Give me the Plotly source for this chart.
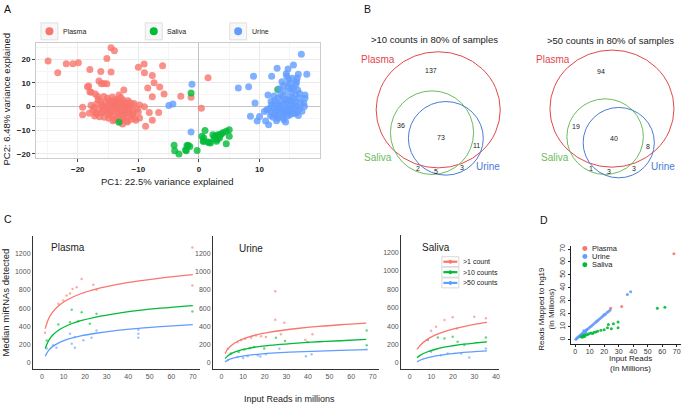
import plotly.graph_objects as go

W, H = 685, 407
def X(px): return px / W
def Y(py): return 1 - py / H

FONT = "Liberation Sans, Arial, sans-serif"
COL = {"Plasma": "#F8766D", "Saliva": "#00BA38", "Urine": "#619CFF"}

# ---------------- Panel A: PCA (PC1, PC2) ----------------
plasma_pc = [(-24.9,19.3),(-23.3,14.3),(-21.9,18.1),(-20.8,18.1),(-19.9,18.6),(-14.5,24.9),(-13.95,23.6),
 (-15.2,20.4),(-18.0,15.7),(-16.2,14.8),(-14.5,14.6),(-10.0,16.6),(-9.05,18.0),(-6.0,17.3),(-9.0,14.3),
 (-7.7,13.2),(-7.4,10.1),(-8.45,7.9),(-6.47,8.3),(-5.76,5.35),(-7.7,4.1),(-3.0,4.4),(-1.3,3.9),(1.5,12.2),
 (0.4,-0.7),(-18.2,8.7),(-16.5,10.8),(-16.1,9.7),(-15.7,9.8),(-15.2,9.6),(-17.8,6.0),(-17.1,5.35),(-16.7,4.2),
 (-12.4,7.0),(-13.2,4.9),(-12.5,2.8),(-10.7,1.3),(-9.0,-0.1),(-19.2,-0.3),(-19.2,-3.5),(-18.1,-2.8),
 (-17.3,-0.4),(-17.0,-2.9),(-8.2,-2.5),(-6.65,-2.5),(-7.7,-5.8),(-9.8,-4.9),(-8.8,-8.3),(-11.0,-3.5),
 (-10.4,-5.8),(-11.9,-6.1),(-12.6,-7.4),(-18.4,8.4),(-18.0,6.3),
 (-16.5,-1.0),(-16.0,0.5),(-15.8,-2.2),(-15.5,1.5),(-15.3,-0.5),(-15.0,-3.0),(-14.8,2.5),(-14.6,0.0),
 (-14.4,-1.5),(-14.2,1.0),(-14.0,-4.0),(-13.8,3.0),(-13.6,-0.8),(-13.4,-2.5),(-13.2,0.8),(-13.0,-1.2),
 (-12.8,2.0),(-12.6,-3.5),(-12.4,0.2),(-12.2,-1.8),(-12.0,1.2),(-11.8,-2.8),(-11.5,-0.5),(-11.2,-4.0),
 (-11.0,0.8),(-10.8,-1.8),(-16.8,-3.0),(-16.2,2.0),(-15.6,-4.5),(-15.1,3.5),(-14.9,-5.0),(-14.3,4.0),
 (-13.9,-5.5),(-13.5,1.8),(-13.1,-3.8),(-12.9,3.8),(-12.5,-5.2),(-12.1,-0.3),(-11.7,2.5),(-11.3,-5.5),
 (-17.5,-1.5),(-17.8,0.5),(-16.6,3.0),(-14.7,-2.5),(-14.1,-0.2),(-13.3,2.6),(-12.7,-2.0),(-12.3,-4.5),
 (-11.9,0.0),(-15.9,-0.2),(-15.4,-1.5),(-14.5,1.8),(-13.7,-1.7),(-13.0,0.3),(-12.6,1.0),(-16.1,-2.6),
 (-14.0,2.2),(-13.4,-4.6),(-11.4,1.6),(-10.9,-3.0),(-10.2,-1.0),(-9.8,0.6),(-10.0,-2.3),(-15.2,0.2),
 (-14.6,-3.6),(-13.6,0.9),(-12.2,-3.0),(-11.6,-1.3),(-16.9,1.2),(-17.2,-4.0),(-16.4,-4.3),(-15.7,4.2),
 (-14.2,-6.0),(-13.0,-6.3),(-11.8,-6.5),(-10.6,-5.0)]

saliva_pc = [(-13.2,-6.7),(-1.3,5.7),(13.0,7.2),(-4.1,-16.4),(-4.0,-18.7),(-3.3,-20.1),(-2.1,-18.7),
 (-1.8,-16.4),(-1.5,-16.9),(-0.3,-18.6),(0.8,-14.7),(1.0,-10.1),(0.5,-12.6),(1.5,-15.0),(1.9,-15.5),
 (2.6,-12.6),(2.9,-14.7),(3.1,-12.0),(3.4,-13.3),(3.7,-11.6),(4.5,-10.5),(5.0,-9.8),(5.0,-12.6),(4.5,-15.8),
 (0.8,-13.3),(2.3,-12.0),(2.8,-13.0),(3.2,-12.5),(2.5,-13.6),(3.0,-14.0),(-2.2,-18.3),(-1.97,-16.5),
 (1.65,-15.2),(0.7,-14.7),(4.0,-11.0),(3.5,-12.0)]

urine_pc = [(-4.97,0.4),(-4.3,1.1),(-1.15,9.4),(-1.3,-10.8),(6.5,7.9),(8.2,8.4),(9.0,12.8),(9.25,1.5),
 (8.5,-4.1),(9.6,-6.1),(10.0,-4.25),(11.0,-6.1),(11.5,-7.7),(12.0,12.8),(12.9,16.2),(14.4,13.9),(14.5,12.8),
 (14.7,15.9),(15.6,17.6),(16.9,22.1),(17.8,13.7),(16.4,13.7),(16.0,9.4),(17.5,4.9),(17.5,3.5),(17.4,0.0),
 (17.3,1.4),(11.4,4.9),(11.9,2.1),(11.2,-1.4),(10.8,-2.1),
 (12.0,-2.5),(12.3,-0.5),(12.5,-3.5),(12.7,1.0),(12.9,-1.5),(13.1,-4.0),(13.2,0.5),(13.4,-2.2),(13.6,2.0),
 (13.7,-0.8),(13.9,-3.2),(14.0,1.2),(14.1,-1.8),(14.3,3.0),(14.4,-0.3),(14.5,-2.8),(14.6,1.8),(14.8,-1.2),
 (14.9,4.0),(15.0,0.5),(15.1,-2.0),(15.2,2.5),(15.3,6.0),(15.4,-0.5),(15.5,3.5),(15.6,8.0),(15.7,1.0),
 (15.8,-1.5),(15.9,5.0),(16.0,2.0),(16.1,10.5),(16.2,0.0),(16.3,7.0),(16.5,3.5),(16.6,-1.0),(14.2,6.5),
 (14.7,8.5),(15.0,10.0),(14.0,9.0),(13.5,5.0),(13.0,3.5),(12.5,2.5),(12.2,-4.5),(13.0,-5.0),(14.0,-5.5),
 (11.8,-3.8),(11.6,-0.8),(12.8,-6.0),(13.8,-4.5),(15.0,-3.5),(16.0,-2.8),(16.8,1.5),(17.0,-2.0),(16.6,5.5),
 (14.8,11.5),(13.3,7.5),(12.4,4.5),(13.7,10.5),(15.4,12.0),(14.3,-6.5),(12.0,0.8),(13.3,-0.2),(14.6,-4.0),
 (15.6,-3.0),(16.4,-3.8),(13.9,4.5),(15.2,7.5),(16.2,12.0),(12.6,-2.2),(14.9,2.8)]

pca_xticks = [-20, -10, 0, 10]
pca_yticks = [-20, -10, 0, 10, 20]

# ---------------- Panel B: Venn counts ----------------
venn_titles = [">10 counts in 80% of samples", ">50 counts in 80% of samples"]
venn1_counts = [137, 36, 73, 11, 2, 5, 3]
venn2_counts = [94, 19, 40, 8, 1, 3, 3]
venn_sets = ["Plasma", "Saliva", "Urine"]

# ---------------- Panel C: saturation curves ----------------
c_plasma_fit_x = [1.5, 3, 5, 8, 12, 18, 25, 35, 45, 55, 70]
c_plasma_gt1 = [375, 482, 560, 633, 695, 758, 808, 860, 899, 930, 967]
c_plasma_gt10 = [157, 242, 305, 363, 413, 463, 503, 544, 575, 600, 629]
c_plasma_gt50 = [73, 135, 181, 223, 260, 296, 325, 356, 379, 397, 420]
c_plasma_pts_gt1 = [(7.6,648),(9.9,684),(11.4,738),(14.2,811),(16.1,829),(18.4,920),(23.8,858),(25.3,801),
                    (69.8,1265),(69.8,848),(1.4,330),(13,760)]
c_plasma_pts_gt10 = [(2.2,246),(7.6,422),(13.8,582),(18.4,556),(13,447),(16.8,458),(25.3,538),(69.8,563),(22.2,429)]
c_plasma_pts_gt50 = [(2.2,157),(5.2,193),(6.7,167),(13.0,320),(13.8,211),(15.3,167),(19.2,247),(23.0,276),
                     (25.3,356),(44.7,363),(44.7,320),(44.7,276),(15.3,283)]

c_urine_fit_x = [1.7, 3, 5, 8, 12, 18, 25, 35, 45, 55, 67]
c_urine_gt1 = [102, 154, 200, 243, 280, 317, 347, 377, 400, 418, 436]
c_urine_gt10 = [47, 78, 107, 134, 157, 181, 198, 217, 232, 243, 258]
c_urine_gt50 = [11, 32, 50, 67, 82, 97, 109, 121, 130, 138, 146]
c_urine_pts_gt1 = [(24.9,785),(24.9,473),(29.1,440),(9.1,247),(13.7,276),(18.3,291),(20.6,284),(2.9,156),
                   (7.5,229),(38.8,255),(42.1,313),(27.5,313),(11,265),(16,300)]
c_urine_pts_gt10 = [(4.4,102),(10.6,146),(15.2,175),(19.8,157),(25.2,276),(29.4,240),(39.8,229),(67.2,356),
                    (67.2,193),(8,120),(13,160)]
c_urine_pts_gt50 = [(2.9,29),(7.5,65),(12.1,73),(16.8,84),(20.6,95),(26.8,156),(39.1,73),(41.7,95),(67.2,146),
                    (10,55),(18,70)]

c_saliva_fit_x = [3.4, 5, 8, 12, 16, 20, 25, 30, 35.8]
c_saliva_gt1 = [146, 194, 253, 304, 340, 368, 395, 418, 440]
c_saliva_gt10 = [55, 84, 118, 148, 170, 186, 203, 216, 229]
c_saliva_gt50 = [11, 31, 55, 75, 90, 101, 113, 122, 131]
c_saliva_pts_gt1 = [(16.1,466),(19.9,495),(9.9,349),(21.8,375),(29.9,503),(35.3,484),(12.2,393)]
c_saliva_pts_gt10 = [(8.4,248),(13,276),(16.1,266),(19.9,284),(25.3,193),(35.3,276),(22.2,229)]
c_saliva_pts_gt50 = [(9.9,120),(14.5,84),(17.6,102),(23.8,102),(27.6,58),(35.3,156)]

c_series = [">1 count", ">10 counts", ">50 counts"]
c_xticks_long = [0, 10, 20, 30, 40, 50, 60, 70]
c_xticks_saliva = [0, 10, 20, 30, 40]
c_yticks = [0, 200, 400, 600, 800, 1000, 1200]

# ---------------- Panel D: mapped reads ----------------
d_plasma = [(3,2.9),(8,7.6),(15,14.4),(20,19.2),(24.5,24.2),(32.1,25.6),(68.1,66.4)]
d_urine = [(0.5,0.4),(1,0.9),(1.5,1.4),(2,1.9),(2.5,2.3),(3,2.8),(3.5,3.3),(4,3.8),(4.5,4.2),(5,4.7),(5.5,5.2),
           (6,5.7),(6.5,6.1),(7,6.6),(7.5,7.1),(8,7.6),(9,8.5),(10,9.5),(11,10.4),(12,11.4),(13,12.3),(14,13.3),
           (15,14.2),(16,15.2),(17,16.1),(18,17.1),(19,18.0),(20,19.0),(21,19.9),(22,20.9),(23,21.8),(24,22.8),
           (5.5,3.8),(6.5,4.6),(7.2,5.5),(6,6.8),(36,34.8),(38.3,37.1)]
d_saliva = [(4,2.2),(5.0,1.8),(5.5,3.3),(6,3.0),(6.5,2.5),(7.5,3.6),(8.5,4.0),(9.5,4.6),(10.8,5.1),(12,4.8),
            (13,5.8),(14.2,5.9),(15.5,6.5),(17.7,7.2),(20,7.7),(22.3,9.2),(22.9,11.8),(25,8.5),(26.4,12.3),
            (29.6,13.6),(29.6,9.2),(56.7,24.3),(61.9,25.0)]
d_ticks = [0, 10, 20, 30, 40, 50, 60, 70]

# =========================================================
fig = go.Figure()

def xs(p): return [a for a, _ in p]
def ys(p): return [b for _, b in p]

# Panel A traces
for name, pts in [("Plasma", plasma_pc), ("Saliva", saliva_pc), ("Urine", urine_pc)]:
    fig.add_trace(go.Scatter(x=xs(pts), y=ys(pts), mode="markers", name=name,
                             marker=dict(size=7, color=COL[name], opacity=0.8, line=dict(width=0)),
                             xaxis="x", yaxis="y", showlegend=False))

# Panel C traces
ccols = [COL["Plasma"], COL["Saliva"], COL["Urine"]]
panels = [
    ("x2", "y2", c_plasma_fit_x, [c_plasma_gt1, c_plasma_gt10, c_plasma_gt50],
     [c_plasma_pts_gt1, c_plasma_pts_gt10, c_plasma_pts_gt50]),
    ("x3", "y3", c_urine_fit_x, [c_urine_gt1, c_urine_gt10, c_urine_gt50],
     [c_urine_pts_gt1, c_urine_pts_gt10, c_urine_pts_gt50]),
    ("x4", "y4", c_saliva_fit_x, [c_saliva_gt1, c_saliva_gt10, c_saliva_gt50],
     [c_saliva_pts_gt1, c_saliva_pts_gt10, c_saliva_pts_gt50]),
]
for xa, ya, fx, fits, ptss in panels:
    for i in range(3):
        fig.add_trace(go.Scatter(x=xs(ptss[i]), y=ys(ptss[i]), mode="markers", xaxis=xa, yaxis=ya,
                                 marker=dict(size=2.5, color=ccols[i], opacity=0.6), showlegend=False))
    for i in range(3):
        fig.add_trace(go.Scatter(x=fx, y=fits[i], mode="lines", name=c_series[i], xaxis=xa, yaxis=ya,
                                 line=dict(color=ccols[i], width=1.3, shape="spline"), showlegend=False))

# Panel D traces
for name, pts in [("Plasma", d_plasma), ("Urine", d_urine), ("Saliva", d_saliva)]:
    fig.add_trace(go.Scatter(x=xs(pts), y=ys(pts), mode="markers", name=name, xaxis="x5", yaxis="y5",
                             marker=dict(size=3, color=COL[name], opacity=0.9), showlegend=False))

# ---------------- axes ----------------
tickA = dict(family=FONT, size=8, color="#222", weight="bold")
fig.update_layout(
    xaxis=dict(domain=[X(36), X(320)], range=[-26.9, 19.9], anchor="y", tickvals=pca_xticks,
               showgrid=True, gridcolor="#ebebeb", gridwidth=1,
               minor=dict(tickvals=[-25, -15, -5, 5, 15], showgrid=True, gridcolor="#f5f5f5", ticks=""),
               zeroline=True, zerolinecolor="#c4c4c4", zerolinewidth=1,
               showline=True, mirror=True, linecolor="#cccccc", linewidth=1,
               ticks="outside", ticklen=3, tickcolor="#444", tickfont=tickA),
    yaxis=dict(domain=[Y(157), Y(41)], range=[-21.9, 27], anchor="x", tickvals=pca_yticks,
               showgrid=True, gridcolor="#ebebeb", gridwidth=1,
               minor=dict(tickvals=[-15, -5, 5, 15, 25], showgrid=True, gridcolor="#f5f5f5", ticks=""),
               zeroline=True, zerolinecolor="#c4c4c4", zerolinewidth=1,
               showline=True, mirror=True, linecolor="#cccccc", linewidth=1,
               ticks="outside", ticklen=3, tickcolor="#444", tickfont=tickA),
)

tickC = dict(family=FONT, size=7, color="#555")
def c_axes(xdom, xr, xt, ydom):
    xa = dict(domain=xdom, range=xr, tickvals=xt, showgrid=False, zeroline=False, showline=True,
              linecolor="#333", linewidth=1, ticks="", tickfont=tickC)
    ya = dict(domain=ydom, range=[-69, 1393], tickvals=c_yticks, showgrid=False, zeroline=False,
              showline=True, linecolor="#333", linewidth=1, ticks="", tickfont=tickC)
    return xa, ya

xa2, ya2 = c_axes([X(33), X(200)], [-4.2, 73.2], c_xticks_long, [Y(369), Y(235)])
xa3, ya3 = c_axes([X(213.3), X(380)], [-3.9, 73.1], c_xticks_long, [Y(369), Y(235)])
xa4, ya4 = c_axes([X(401.7), X(500)], [-4.0, 41.5], c_xticks_saliva, [Y(369), Y(234)])
xa2["anchor"], ya2["anchor"] = "y2", "x2"
xa3["anchor"], ya3["anchor"] = "y3", "x3"
xa4["anchor"], ya4["anchor"] = "y4", "x4"

tickD = dict(family=FONT, size=7, color="#333")
xa5 = dict(domain=[X(572), X(682)], range=[-2.75, 73], anchor="y5", tickvals=d_ticks, showgrid=False,
           zeroline=False, showline=True, linecolor="#222", linewidth=1, ticks="outside", ticklen=2,
           tickcolor="#222", tickfont=tickD, ticklabelstandoff=-2)
ya5 = dict(domain=[Y(344), Y(245)], range=[-3.6, 72.5], anchor="x5", tickvals=d_ticks, showgrid=False,
           zeroline=False, showline=True, linecolor="#222", linewidth=1, ticks="outside", ticklen=2,
           tickcolor="#222", tickfont=tickD, tickangle=-90)

fig.update_layout(xaxis2=xa2, yaxis2=ya2, xaxis3=xa3, yaxis3=ya3, xaxis4=xa4, yaxis4=ya4,
                  xaxis5=xa5, yaxis5=ya5)

# ---------------- annotations & shapes ----------------
ann = []
shapes = []
def text(px, py, s, size, color="#222", xanchor="center", yanchor="middle", angle=0):
    ann.append(dict(x=X(px), y=Y(py), xref="paper", yref="paper", text=s, showarrow=False,
                    font=dict(family=FONT, size=size, color=color), xanchor=xanchor,
                    yanchor=yanchor, textangle=angle, borderpad=0))

def circle(x0, y0, x1, y1, line=None, fill="rgba(0,0,0,0)"):
    shapes.append(dict(type="circle", xref="paper", yref="paper", x0=X(x0), x1=X(x1), y0=Y(y1), y1=Y(y0),
                       line=line or dict(width=0), fillcolor=fill, layer="above"))

def rect(x0, y0, x1, y1, color="#d0d0d0", fill="white"):
    shapes.append(dict(type="rect", xref="paper", yref="paper", x0=X(x0), x1=X(x1), y0=Y(y1), y1=Y(y0),
                       line=dict(color=color, width=0.8), fillcolor=fill, layer="above"))

def hline(x0, x1, y, color, width):
    shapes.append(dict(type="line", xref="paper", yref="paper", x0=X(x0), x1=X(x1), y0=Y(y), y1=Y(y),
                       line=dict(color=color, width=width), layer="above"))

# panel letters
text(3, 7, "A", 10.5, "#111", xanchor="left")
text(364, 7, "B", 10.5, "#111", xanchor="left")
text(3, 218, "C", 10.5, "#111", xanchor="left")
text(540, 219, "D", 10.5, "#111", xanchor="left")

# Panel A titles + legend
text(168, 180, "PC1: 22.5% variance explained", 9.5, "#222")
text(7, 97, "PC2: 6.48% variance explained", 9.5, "#222", angle=-90)
legA = [("Plasma", 41, 62), ("Saliva", 145.5, 166), ("Urine", 230, 251)]
for name, bx, tx in legA:
    rect(bx, 21, bx + 17, 38, color="#d9d9d9", fill="#f7f7f7")
    circle(bx + 4.5, 25.5, bx + 12.5, 33.5, fill=COL[name])
    text(tx, 30, name, 7, "#222", xanchor="left")

# Panel B venns
venn_colors = {"Plasma": "#e2474b", "Saliva": "#6cbb5c", "Urine": "#4a7bd4"}
venn_geo = [
    dict(title=(435.5, 37.3),
         circles={"Plasma": (376.7, 50, 501, 166.7), "Saliva": (391, 89.3, 474.3, 173.3),
                  "Urine": (409, 100, 484, 174)},
         labels={"Plasma": (378.4, 57.3), "Saliva": (378.2, 156.7), "Urine": (489, 165)},
         counts=[(431.7, 69), (401.7, 123.7), (441.7, 136), (476.7, 144.3), (418.3, 167.3),
                 (436.3, 170), (462.3, 166.7)]),
    dict(title=(611.3, 38.3),
         circles={"Plasma": (550.7, 48.3, 675, 166), "Saliva": (567.7, 97.3, 644.3, 173.3),
                  "Urine": (584, 106, 655.3, 176.7)},
         labels={"Plasma": (554, 57.3), "Saliva": (556.3, 156.7), "Urine": (664.2, 165)},
         counts=[(602.3, 70), (577.3, 125), (615.3, 136.7), (649, 145), (592.3, 167.3),
                 (610, 170.7), (635, 167.3)]),
]
for g, title, counts in zip(venn_geo, venn_titles, [venn1_counts, venn2_counts]):
    text(g["title"][0], g["title"][1], title, 9.5, "#222")
    for s in venn_sets:
        x0, y0, x1, y1 = g["circles"][s]
        circle(x0, y0, x1, y1, line=dict(color=venn_colors[s], width=1))
        lx, ly = g["labels"][s]
        text(lx, ly, s, 10, venn_colors[s])
    for (cx, cy), v in zip(g["counts"], counts):
        text(cx, cy, str(v), 7, "#222")

# Panel C titles + legend
text(50, 247, "Plasma", 10, "#222", xanchor="left")
text(238.7, 248, "Urine", 10, "#222", xanchor="left")
text(421.7, 247, "Saliva", 10, "#222", xanchor="left")
text(6, 302, "Median miRNAs detected", 9.5, "#222", angle=-90)
text(290, 399, "Input Reads in millions", 9, "#222")
for i, (row_y) in enumerate([261, 271.5, 282.3]):
    rect(442.5, row_y - 5, 459.5, row_y + 5, color="#cfcfcf", fill="white")
    hline(444, 458, row_y, ccols[i], 2.2)
    circle(449.3, row_y - 2, 452.7, row_y + 2, fill=ccols[i])
    text(463, row_y, c_series[i], 7, "#222", xanchor="left")

# Panel D titles + legend
text(547, 308, "Reads Mapped to hg19<br>(In Millions)", 8, "#222", angle=-90)
text(631.7, 358.5, "Input Reads", 8, "#222")
text(631.7, 368.5, "(In Millions)", 8, "#222")
for name, ly in [("Plasma", 247.7), ("Urine", 255.7), ("Saliva", 264)]:
    circle(583.2, ly - 2.5, 588.2, ly + 2.5, fill=COL[name])
    text(592, ly, name, 7.5, "#222", xanchor="left")

fig.update_layout(width=W, height=H, margin=dict(l=0, r=0, t=0, b=0),
                  paper_bgcolor="white", plot_bgcolor="white", showlegend=False,
                  annotations=ann, shapes=shapes, font=dict(family=FONT))

fig.write_html("out.html", config={"displayModeBar": False},
               post_script="document.body.style.margin='0';document.body.style.overflow='hidden';")
